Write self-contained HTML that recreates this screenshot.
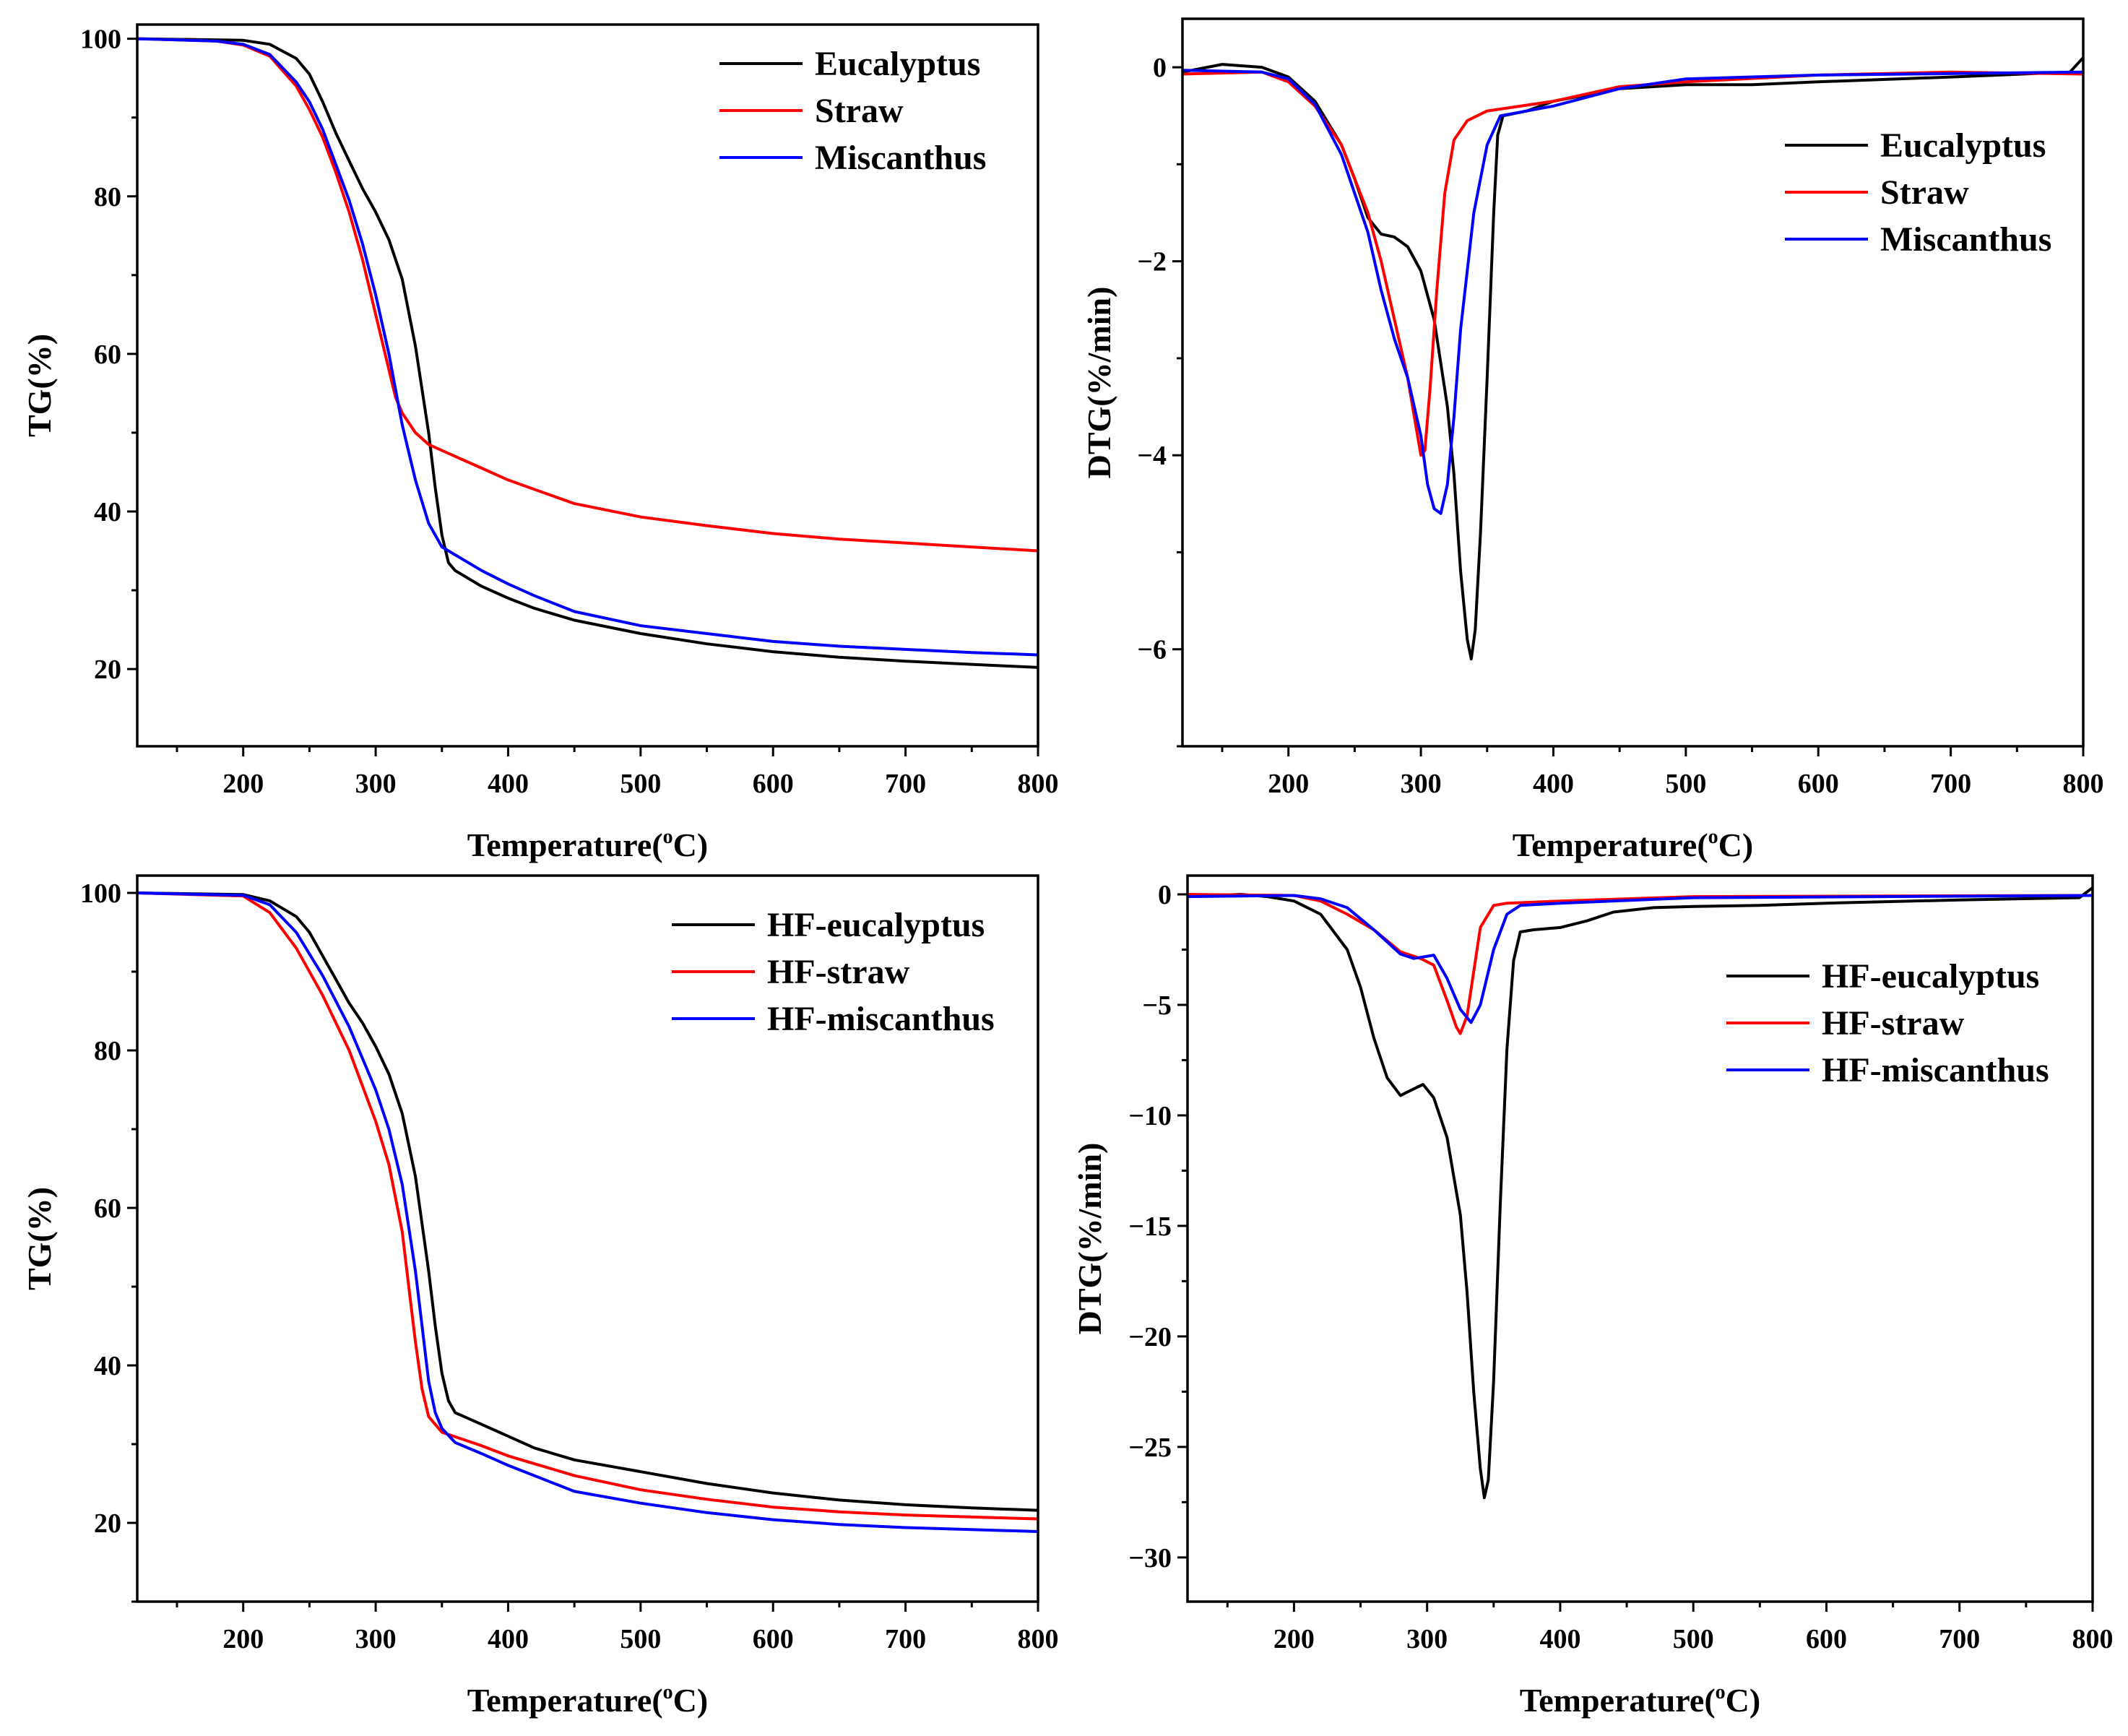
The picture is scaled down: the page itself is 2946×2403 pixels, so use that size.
<!DOCTYPE html>
<html><head><meta charset="utf-8"><style>
html,body{margin:0;padding:0;background:#fff}
svg{display:block;font-family:"Liberation Serif",serif;font-weight:bold}
</style></head><body>
<svg id="fig" width="2946" height="2403" viewBox="0 0 2946 2403"></svg>
<script>
// ---- Panel A: TG raw ----
const tA_euc=[120,200,220,240,250,260,270,280,290,300,310,320,330,340,345,350,355,360,380,400,420,450,500,550,600,650,700,750,800];
const vA_euc=[100,99.8,99.3,97.5,95.5,92,88,84.5,81,78,74.5,69.5,61,50,43,37,33.5,32.5,30.5,29,27.7,26.2,24.5,23.2,22.2,21.5,21,20.6,20.2];
const tA_str=[120,180,200,220,240,250,260,270,280,290,300,310,315,320,330,340,360,380,400,420,450,500,550,600,650,700,750,800];
const vA_str=[100,99.7,99.2,97.8,94,91,87.5,83,78,72,65,58,54.5,52.5,50,48.5,47,45.5,44,42.8,41,39.3,38.2,37.2,36.5,36,35.5,35];
const tA_mis=[120,180,200,220,240,250,260,270,280,290,300,310,315,320,330,340,350,360,380,400,420,450,500,550,600,650,700,750,800];
const vA_mis=[100,99.7,99.3,98,94.5,92,88.5,84,79.5,74,67.5,60,55.5,51,44,38.5,35.5,34.5,32.5,30.8,29.3,27.3,25.5,24.5,23.5,22.9,22.5,22.1,21.8];
// ---- Panel B: DTG raw ----
const tB_euc=[120,150,180,200,220,240,250,260,270,280,290,300,310,320,325,330,335,338,341,345,350,355,358,362,380,400,450,500,550,600,700,790,800];
const vB_euc=[-0.05,0.03,0,-0.1,-0.35,-0.8,-1.15,-1.55,-1.72,-1.75,-1.85,-2.1,-2.6,-3.5,-4.2,-5.2,-5.9,-6.1,-5.8,-4.8,-3.2,-1.5,-0.7,-0.5,-0.45,-0.35,-0.22,-0.18,-0.18,-0.15,-0.1,-0.05,0.1];
const tB_str=[120,180,200,220,240,260,270,280,290,295,300,303,307,312,318,325,335,350,400,450,500,600,700,800];
const vB_str=[-0.07,-0.05,-0.15,-0.4,-0.8,-1.5,-2.0,-2.6,-3.2,-3.6,-4.0,-3.95,-3.3,-2.3,-1.3,-0.75,-0.55,-0.45,-0.35,-0.2,-0.15,-0.08,-0.05,-0.07];
const tB_mis=[120,180,200,220,240,260,270,280,290,300,305,310,315,320,325,330,340,350,360,400,450,500,600,800];
const vB_mis=[-0.03,-0.05,-0.12,-0.38,-0.9,-1.7,-2.3,-2.8,-3.2,-3.8,-4.3,-4.55,-4.6,-4.3,-3.6,-2.7,-1.5,-0.8,-0.5,-0.4,-0.22,-0.12,-0.08,-0.05];
// ---- Panel C: TG HF ----
const tC_euc=[120,200,220,240,250,260,270,280,290,300,310,320,330,340,345,350,355,360,380,400,420,450,500,550,600,650,700,750,800];
const vC_euc=[100,99.8,99,97,95,92,89,86,83.5,80.5,77,72,64,52,45,39,35.5,34,32.5,31,29.5,28,26.5,25,23.8,22.9,22.3,21.9,21.6];
const tC_str=[120,200,220,240,260,280,300,310,320,325,330,335,340,350,380,400,450,500,550,600,650,700,800];
const vC_str=[100,99.6,97.5,93,87,80,71,65.5,57,50,43,37,33.5,31.5,29.8,28.5,26,24.2,23,22,21.4,21,20.5];
const tC_mis=[120,200,220,240,260,280,300,310,320,330,335,340,345,350,360,380,400,450,500,550,600,650,700,800];
const vC_mis=[100,99.7,98.5,95,89.5,83,75,70,63,52,45,38,34,32,30.2,28.8,27.3,24,22.5,21.3,20.4,19.8,19.4,18.9];
// ---- Panel D: DTG HF ----
const tD_euc=[120,160,180,200,220,240,250,260,270,280,290,297,305,315,325,330,335,340,343,346,350,355,360,365,370,380,400,420,440,470,500,550,600,700,790,800];
const vD_euc=[-0.1,0,-0.1,-0.3,-0.9,-2.5,-4.2,-6.5,-8.3,-9.1,-8.8,-8.6,-9.2,-11,-14.5,-18,-22.5,-26,-27.3,-26.5,-22,-14,-7,-3,-1.7,-1.6,-1.5,-1.2,-0.8,-0.6,-0.55,-0.5,-0.4,-0.25,-0.15,0.3];
const tD_str=[120,200,220,240,260,280,295,305,315,322,325,330,335,340,350,360,400,500,800];
const vD_str=[0,-0.05,-0.3,-0.9,-1.6,-2.6,-2.9,-3.2,-4.8,-6,-6.3,-5.5,-3.5,-1.5,-0.5,-0.4,-0.3,-0.1,-0.05];
const tD_mis=[120,200,220,240,260,280,290,300,305,315,325,333,340,350,360,370,400,500,800];
const vD_mis=[-0.1,-0.05,-0.2,-0.6,-1.6,-2.7,-2.9,-2.8,-2.75,-3.8,-5.2,-5.8,-5,-2.5,-0.9,-0.5,-0.4,-0.15,-0.05];
const xTicks=[200,300,400,500,600,700,800];
const tgTicks=[20,40,60,80,100];
const dtgTicks=[0,-2,-4,-6];
const dtgHFTicks=[0,-5,-10,-15,-20,-25,-30];

const NS='http://www.w3.org/2000/svg';
const svg=document.getElementById('fig');
function mk(tag,attrs,parent){const e=document.createElementNS(NS,tag);for(const k in attrs)e.setAttribute(k,attrs[k]);(parent||svg).appendChild(e);return e;}
const COL={k:'#000',r:'#ff0000',b:'#0000ff'};

function panel(p){
  const g=mk('g',{});
  
  
  const sx=v=>p.L+(v-p.x0)/(p.x1-p.x0)*(p.R-p.L);
  const sy=v=>p.B-(v-p.y0)/(p.y1-p.y0)*(p.B-p.T);
  p.series.forEach(s=>{
    let d='';
    s.t.forEach((t,i)=>{d+=(i?'L':'M')+sx(t).toFixed(1)+','+sy(s.v[i]).toFixed(1);});
    const pa=mk('path',{d:d,fill:'none',stroke:COL[s.c],'stroke-width':4,'stroke-linejoin':'round'},g);
    
    
  });
  const fr=mk('rect',{x:p.L,y:p.T,width:p.R-p.L,height:p.B-p.T,fill:'none',stroke:'#000','stroke-width':3.5},g);
  
  
  for(let v=150;v<=800;v+=50){
    const major=v%100===0;
    mk('line',{x1:sx(v),x2:sx(v),y1:p.B,y2:p.B+(major?14:8),stroke:'#000','stroke-width':3},g);
  }
  xTicks.forEach(v=>{
    const t=mk('text',{x:sx(v),y:p.B+64,'text-anchor':'middle','font-size':38},g);
    t.textContent=v;
    
    
  });
  const st=p.yStep;
  for(let v=Math.ceil(p.y0/(st/2))*(st/2);v<=p.y1;v+=st/2){
    const major=Math.abs(Math.round(v/st)*st-v)<1e-6;
    mk('line',{x1:p.L,x2:p.L-(major?14:8),y1:sy(v),y2:sy(v),stroke:'#000','stroke-width':3},g);
  }
  p.yTicks.forEach(v=>{
    const t=mk('text',{x:p.L-22,y:sy(v)+13,'text-anchor':'end','font-size':38},g);
    t.textContent=v<0?'\u2212'+(-v):v;
    
    
  });
  const xt=mk('text',{x:(p.L+p.R)/2,y:p.B+152,'text-anchor':'middle','font-size':46},g);
  xt.innerHTML='Temperature(<tspan font-size="28" dy="-18">o</tspan><tspan dy="18">C)</tspan>';
  
  
  const yt=mk('text',{x:0,y:0,'text-anchor':'middle','font-size':46,transform:`translate(${p.yTitleX},${(p.T+p.B)/2}) rotate(-90)`},g);
  yt.textContent=p.yTitle;
  
  
  p.series.forEach((s,i)=>{
    const y=p.legY+i*p.legDy;
    const ln=mk('line',{x1:p.legX,x2:p.legX+115,y1:y,y2:y,stroke:COL[s.c],'stroke-width':4},g);
    
    
    const tx=mk('text',{x:p.legX+132,y:y+16,'font-size':48},g);
    tx.textContent=s.label;
    
    
  });
}

panel({name:'tg-panel',L:190,R:1437,T:34,B:1033,x0:120,x1:800,y0:10.2,y1:101.8,yStep:20,yTicks:tgTicks,yTitle:'TG(%)',yTitleX:70,legX:996,legY:88,legDy:65,
  series:[{id:'eucalyptus',label:'Eucalyptus',c:'k',t:tA_euc,v:vA_euc},{id:'straw',label:'Straw',c:'r',t:tA_str,v:vA_str},{id:'miscanthus',label:'Miscanthus',c:'b',t:tA_mis,v:vA_mis}]});
panel({name:'dtg-panel',L:1637,R:2884,T:26,B:1033,x0:120,x1:800,y0:-7,y1:0.5,yStep:2,yTicks:dtgTicks,yTitle:'DTG(%/min)',yTitleX:1537,legX:2471,legY:201,legDy:65,
  series:[{id:'eucalyptus',label:'Eucalyptus',c:'k',t:tB_euc,v:vB_euc},{id:'straw',label:'Straw',c:'r',t:tB_str,v:vB_str},{id:'miscanthus',label:'Miscanthus',c:'b',t:tB_mis,v:vB_mis}]});
panel({name:'tg-hf-panel',L:190,R:1437,T:1212,B:2217,x0:120,x1:800,y0:10,y1:102.2,yStep:20,yTicks:tgTicks,yTitle:'TG(%)',yTitleX:70,legX:930,legY:1280,legDy:65,
  series:[{id:'hf-eucalyptus',label:'HF-eucalyptus',c:'k',t:tC_euc,v:vC_euc},{id:'hf-straw',label:'HF-straw',c:'r',t:tC_str,v:vC_str},{id:'hf-miscanthus',label:'HF-miscanthus',c:'b',t:tC_mis,v:vC_mis}]});
panel({name:'dtg-hf-panel',L:1644,R:2897,T:1212,B:2217,x0:120,x1:800,y0:-32,y1:0.85,yStep:5,yTicks:dtgHFTicks,yTitle:'DTG(%/min)',yTitleX:1524,legX:2390,legY:1351,legDy:65,
  series:[{id:'hf-eucalyptus',label:'HF-eucalyptus',c:'k',t:tD_euc,v:vD_euc},{id:'hf-straw',label:'HF-straw',c:'r',t:tD_str,v:vD_str},{id:'hf-miscanthus',label:'HF-miscanthus',c:'b',t:tD_mis,v:vD_mis}]});
</script>
</body></html>
